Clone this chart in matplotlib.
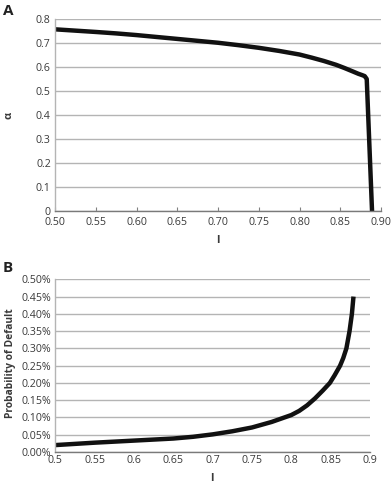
import matplotlib
matplotlib.use("Agg")
import matplotlib.pyplot as plt
from matplotlib.ticker import FuncFormatter

plt.rcParams['font.family'] = ['Open Sans', 'DejaVu Sans']

# Panel A data: alpha vs l
l_a = [0.50, 0.55, 0.575, 0.60, 0.625, 0.65, 0.675, 0.70, 0.725, 0.75, 0.775, 0.80,
       0.815, 0.83, 0.845, 0.855, 0.865, 0.872, 0.877, 0.880, 0.8825, 0.8845, 0.889]
alpha_a = [0.757, 0.746, 0.740, 0.733, 0.725, 0.717, 0.709, 0.701, 0.691, 0.680, 0.667, 0.652,
           0.639, 0.625, 0.609, 0.596, 0.582, 0.572, 0.566, 0.562, 0.55, 0.38, 0.0]

# Panel B data: probability of default (%) vs l
l_b = [0.50, 0.55, 0.60, 0.65, 0.675, 0.70, 0.725, 0.75, 0.775, 0.80, 0.81, 0.82, 0.83,
       0.84, 0.849, 0.855, 0.862, 0.866, 0.870, 0.874, 0.877, 0.879]
pd_b = [0.020, 0.027, 0.033, 0.039, 0.044, 0.051, 0.060, 0.071, 0.087, 0.107, 0.119, 0.135, 0.155,
        0.178, 0.20, 0.222, 0.25, 0.272, 0.30, 0.35, 0.40, 0.45]

a_xticks = [0.50, 0.55, 0.60, 0.65, 0.70, 0.75, 0.80, 0.85, 0.90]
a_yticks = [0, 0.1, 0.2, 0.3, 0.4, 0.5, 0.6, 0.7, 0.8]
b_xticks = [0.5, 0.55, 0.6, 0.65, 0.7, 0.75, 0.8, 0.85, 0.9]
b_yticks = [0.00, 0.05, 0.10, 0.15, 0.20, 0.25, 0.30, 0.35, 0.40, 0.45, 0.50]

W, H = 392, 484
fig = plt.figure(figsize=(W / 100, H / 100), dpi=100)

grid_c = '#b4b4b4'
tick_c = '#3a3a3a'
line_c = '#111111'
fs = 7.7

def style(ax):
    ax.set_axisbelow(True)
    ax.grid(axis='y', color=grid_c, linewidth=1.0)
    ax.grid(axis='x', visible=False)
    for s in ['top', 'right']:
        ax.spines[s].set_visible(False)
    ax.spines['left'].set_color(grid_c)
    ax.spines['left'].set_linewidth(1.0)
    ax.spines['bottom'].set_color('#7a7a7a')
    ax.spines['bottom'].set_linewidth(1.0)
    ax.tick_params(axis='x', direction='in', length=3, color='#808080', labelsize=fs, labelcolor=tick_c, pad=4.5)
    ax.tick_params(axis='y', length=0, labelsize=fs, labelcolor=tick_c, pad=3)

# Panel A
axA = fig.add_axes([55 / W, 1 - 211 / H, (381 - 55) / W, (211 - 19) / H])
axA.plot(l_a, alpha_a, color=line_c, linewidth=3.2, solid_joinstyle='round')
axA.set_xlim(0.50, 0.90)
axA.set_ylim(0, 0.8)
axA.set_xticks(a_xticks)
axA.set_xticklabels([f'{v:.2f}' for v in a_xticks])
axA.set_yticks(a_yticks)
axA.set_yticklabels(['0' if v == 0 else f'{v:.1f}' for v in a_yticks])
style(axA)
axA.set_xlabel('l', fontsize=8, fontweight='bold', color=tick_c)
axA.xaxis.set_label_coords((218 - 55) / 326, -(235 - 211) / 192)
axA.set_ylabel('α', fontsize=8, fontweight='bold', color=tick_c)
axA.yaxis.set_label_coords((15 - 55) / 326, 0.5)

# Panel B
axB = fig.add_axes([55.3 / W, 1 - 452 / H, (370 - 55.3) / W, (452 - 279.3) / H])
axB.plot(l_b, pd_b, color=line_c, linewidth=3.2, solid_capstyle='butt', solid_joinstyle='round')
axB.set_xlim(0.5, 0.9)
axB.set_ylim(0, 0.50)
axB.set_xticks(b_xticks)
axB.set_xticklabels([f'{v:g}' for v in b_xticks])
axB.set_yticks(b_yticks)
axB.yaxis.set_major_formatter(FuncFormatter(lambda v, p: f'{v:.2f}%'))
style(axB)
axB.tick_params(axis='x', length=0, pad=2.5)
axB.set_xlabel('l', fontsize=8, fontweight='bold', color=tick_c)
axB.xaxis.set_label_coords((212 - 55.3) / 314.7, -(473 - 452) / 172.7)
axB.set_ylabel('Probability of Default', fontsize=7.4, fontweight='bold', color=tick_c)
axB.yaxis.set_label_coords((16 - 55.3) / 314.7, (452 - 363) / 172.7)

fig.text(3 / W, 1 - 4 / H, 'A', fontsize=11, fontweight='bold', va='top', ha='left', color='#222222')
fig.text(3 / W, 1 - 261 / H, 'B', fontsize=11, fontweight='bold', va='top', ha='left', color='#222222')

fig.savefig('out.png', dpi=100)
